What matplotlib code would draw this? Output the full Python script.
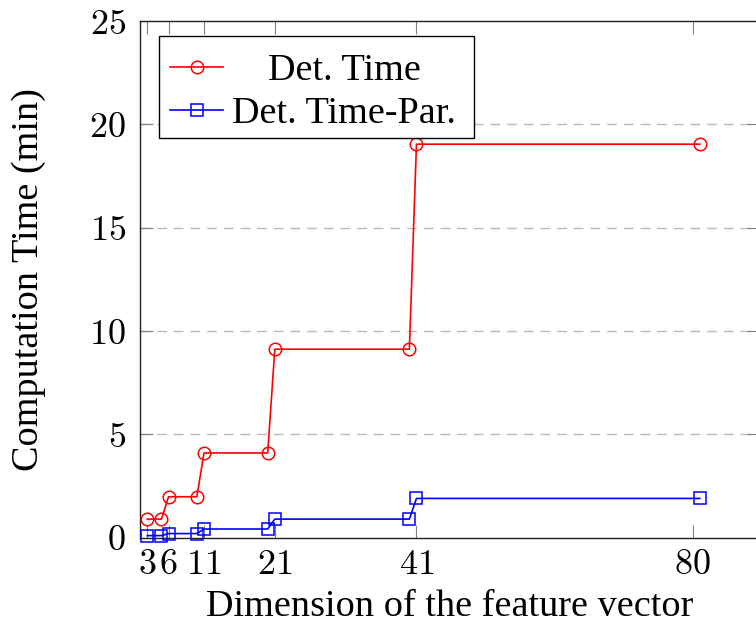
import matplotlib
matplotlib.use("Agg")
import matplotlib.pyplot as plt
from matplotlib.lines import Line2D
from matplotlib.patches import Rectangle

# feature vector dimension vs. computation time (minutes)
dims = [3, 5, 6, 10, 11, 20, 21, 40, 41, 81]
det_time = [0.9, 0.9, 1.98, 1.98, 4.1, 4.1, 9.12, 9.12, 19.04, 19.04]
det_time_par = [0.1, 0.1, 0.2, 0.2, 0.42, 0.42, 0.9, 0.9, 1.9, 1.9]

x_ticks = [3, 6, 11, 21, 41, 80]
y_ticks = [0, 5, 10, 15, 20, 25]
labels = ["Det. Time", "Det. Time-Par."]

W, H = 756, 631
plt.rcParams["font.family"] = ["Liberation Serif", "DejaVu Serif"]
plt.rcParams["mathtext.fontset"] = "cm"
TEXT_SIZE = 27.5
TICK_SIZE = 26

fig = plt.figure(figsize=(W / 100, H / 100), dpi=100)

# axes box in pixels (right edge runs past the figure, like the cropped original)
left, right, top, bottom = 140, 760, 21, 537.7
ax = fig.add_axes([left / W, 1 - bottom / H, (right - left) / W, (bottom - top) / H])

red_style = dict(color="#ff0000", lw=1.2, marker="o", ms=9, mfc="none", mew=1.1)
blue_style = dict(color="#0000ff", lw=1.2, marker="s", ms=9, mfc="none", mew=1.1)

ax.plot(dims, det_time, zorder=3, clip_on=False, **red_style)
ax.plot(dims, det_time_par, zorder=3, clip_on=False, **blue_style)

ax.set_xlim(1.97, 89.5)
ax.set_ylim(0, 25)
ax.set_xticks(x_ticks)
ax.set_xticklabels([f"${t}$" for t in x_ticks])
ax.set_yticks(y_ticks)
ax.set_yticklabels([f"${t}$" for t in y_ticks])

for y in y_ticks[1:-1]:
    ax.axhline(y, color="#b8b8b8", lw=1.0, ls=(0, (7, 5)), zorder=1)

ax.tick_params(direction="in", length=9.4, width=0.8, color="#808080",
               labelsize=TICK_SIZE, top=True, right=True)
ax.tick_params(axis="x", pad=8)
ax.tick_params(axis="y", pad=10)
for s in ax.spines.values():
    s.set_linewidth(1.0)
    s.set_color("#222222")

ax.set_xlabel("Dimension of the feature vector", fontsize=TEXT_SIZE)
ax.set_ylabel("Computation Time (min)", fontsize=TEXT_SIZE)
ax.xaxis.set_label_coords(0.5, (bottom - 590) / (bottom - top))
ax.yaxis.set_label_coords((46 - left) / (right - left), 0.5)

# legend drawn by hand so that the labels are centred like pgfplots
def fx(px):
    return px / W

def fy(py):
    return 1 - py / H

fig.patches.append(Rectangle((fx(159), fy(138)), fx(474) - fx(159), fy(36) - fy(138),
                             transform=fig.transFigure, facecolor="white",
                             edgecolor="black", lw=1.0, zorder=5))
for row_y, style, label in zip([66.7, 110], [red_style, blue_style], labels):
    fig.lines.append(Line2D([fx(170), fx(223)], [fy(row_y), fy(row_y)],
                            transform=fig.transFigure, zorder=6,
                            color=style["color"], lw=style["lw"]))
    fig.lines.append(Line2D([fx(197)], [fy(row_y)], transform=fig.transFigure,
                            ls="none", zorder=6, color=style["color"],
                            marker=style["marker"], ms=style["ms"], mfc="none",
                            mew=style["mew"]))
    fig.text(fx(344), fy(row_y), label, ha="center", va="center_baseline",
             fontsize=TEXT_SIZE, zorder=7)

fig.savefig("out.png", dpi=100)
